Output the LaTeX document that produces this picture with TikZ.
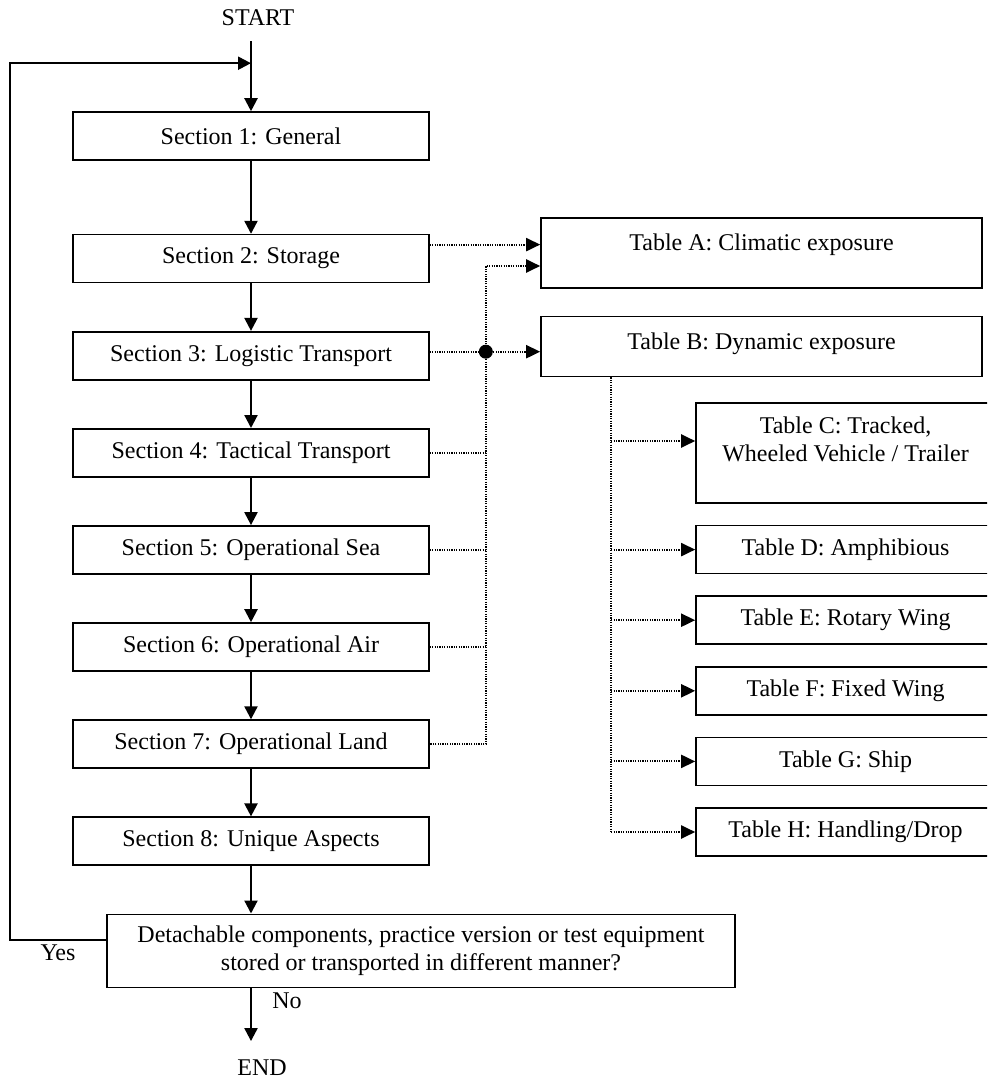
\documentclass[tikz,border=0pt]{standalone}
\usepackage{fontspec}
\setmainfont{Liberation Serif}
\usepackage{tikz}
\usetikzlibrary{arrows.meta,positioning,calc}
\newcommand\flowfont{\fontsize{12pt}{14pt}\selectfont}
\tikzset{
  secbox/.style={rectangle, draw=black, line width=0.8pt, align=center, font=\flowfont, minimum width=178pt, minimum height=24pt},
  decbox/.style={rectangle, draw=black, line width=0.8pt, align=center, font=\flowfont, minimum width=314pt, minimum height=36.5pt},
  tabbox/.style={rectangle, draw=black, line width=0.8pt, align=center, font=\flowfont, minimum width=149.5pt, minimum height=24pt},
  toptext/.style={anchor=north, align=center, font=\flowfont},
  plaintext/.style={font=\flowfont},
  mainarrow/.style={-{Triangle[length=6.5pt,width=6.5pt]}, line width=1.1pt},
  dotline/.style={line width=1pt, dash pattern=on 0.6pt off 0.6pt},
  dotarrow/.style={dotline, -{Triangle[length=7pt,width=6.5pt]}},
  junction/.style={circle, fill=black, inner sep=0pt, minimum size=7pt}
}
\begin{document}
\begin{tikzpicture}[x=0.5pt, y=-0.5pt, node distance=23.75pt]
\clip (0,0) rectangle (987,1082);

% main column
\node[plaintext] (start) at (258,18) {START};
\node[secbox] (s1) at (251,136) {Section 1: General};
\node[secbox, below=36.5pt of s1] (s2) {Section 2: Storage};
\node[secbox, below=of s2] (s3) {Section 3: Logistic Transport};
\node[secbox, below=of s3] (s4) {Section 4: Tactical Transport};
\node[secbox, below=of s4] (s5) {Section 5: Operational Sea};
\node[secbox, below=of s5] (s6) {Section 6: Operational Air};
\node[secbox, below=of s6] (s7) {Section 7: Operational Land};
\node[secbox, below=of s7] (s8) {Section 8: Unique Aspects};
\node[decbox, below=of s8, xshift=85pt] (dec) {Detachable components, practice version or test equipment\\stored or transported in different manner?};
\node[plaintext] (yes) at (58,953) {Yes};
\node[plaintext] (no) at (287,1001) {No};
\node[plaintext] (endn) at (262,1068) {END};

% tables
\node[tabbox, minimum width=220.5pt, minimum height=35pt,
  label={[toptext, yshift=-5pt]north:Table A: Climatic exposure}] (tabA) at (761.5,253) {};
\node[tabbox, minimum width=220.5pt, minimum height=30pt, below=13.5pt of tabA,
  label={[toptext, yshift=-5pt]north:Table B: Dynamic exposure}] (tabB) {};
\node[tabbox, minimum height=50pt,
  label={[toptext, yshift=-4pt]north:Table C: Tracked,\\Wheeled Vehicle / Trailer}] (tabC) at (845.5,453) {};
\node[tabbox, below=10.5pt of tabC] (tabD) {Table D: Amphibious};
\node[tabbox, below=10.5pt of tabD] (tabE) {Table E: Rotary Wing};
\node[tabbox, below=10.5pt of tabE] (tabF) {Table F: Fixed Wing};
\node[tabbox, below=10.5pt of tabF] (tabG) {Table G: Ship};
\node[tabbox, below=10.5pt of tabG] (tabH) {Table H: Handling/Drop};

\node[junction] (jn) at ([xshift=28pt,yshift=2pt]s3.east) {};
\coordinate (bt) at ([xshift=35.5pt]tabB.south west);
\coordinate (cin) at ([yshift=6pt]tabC.west);
\coordinate (loopin) at ([yshift=24pt]s1.north);
\coordinate (yesout) at ([yshift=5.5pt]dec.west);

% main flow
\draw[mainarrow] ([yshift=-4pt]start.south -| s1.north) -- (s1.north);
\draw[mainarrow] (s1) -- (s2);
\draw[mainarrow] (s2) -- (s3);
\draw[mainarrow] (s3) -- (s4);
\draw[mainarrow] (s4) -- (s5);
\draw[mainarrow] (s5) -- (s6);
\draw[mainarrow] (s6) -- (s7);
\draw[mainarrow] (s7) -- (s8);
\draw[mainarrow] (s8.south) -- (s8.south |- dec.north);
\draw[mainarrow] (dec.south -| s8.south) -- ([yshift=6pt]endn.north -| s8.south);
\draw[mainarrow] (yesout) -- ++(-48pt,0) |- (loopin);

% sections to tables
\draw[dotarrow] ([yshift=7pt]s2.east) -- ([yshift=7pt]s2.east -| tabA.west);
\draw[dotarrow] (jn) |- ([yshift=-6.5pt]tabA.west);
\draw[dotline] (s3.east |- jn) -- (jn);
\draw[dotarrow] (jn) -- (jn -| tabB.west);
\draw[dotline] (jn) |- (s7.east);
\draw[dotline] (s4.east) -- (s4.east -| jn);
\draw[dotline] (s5.east) -- (s5.east -| jn);
\draw[dotline] (s6.east) -- (s6.east -| jn);

% dynamic exposure tables
\draw[dotline] (bt) -- (bt |- tabH.west);
\draw[dotarrow] (bt |- cin) -- (cin);
\draw[dotarrow] (bt |- tabD.west) -- (tabD.west);
\draw[dotarrow] (bt |- tabE.west) -- (tabE.west);
\draw[dotarrow] (bt |- tabF.west) -- (tabF.west);
\draw[dotarrow] (bt |- tabG.west) -- (tabG.west);
\draw[dotarrow] (bt |- tabH.west) -- (tabH.west);
\end{tikzpicture}
\end{document}
